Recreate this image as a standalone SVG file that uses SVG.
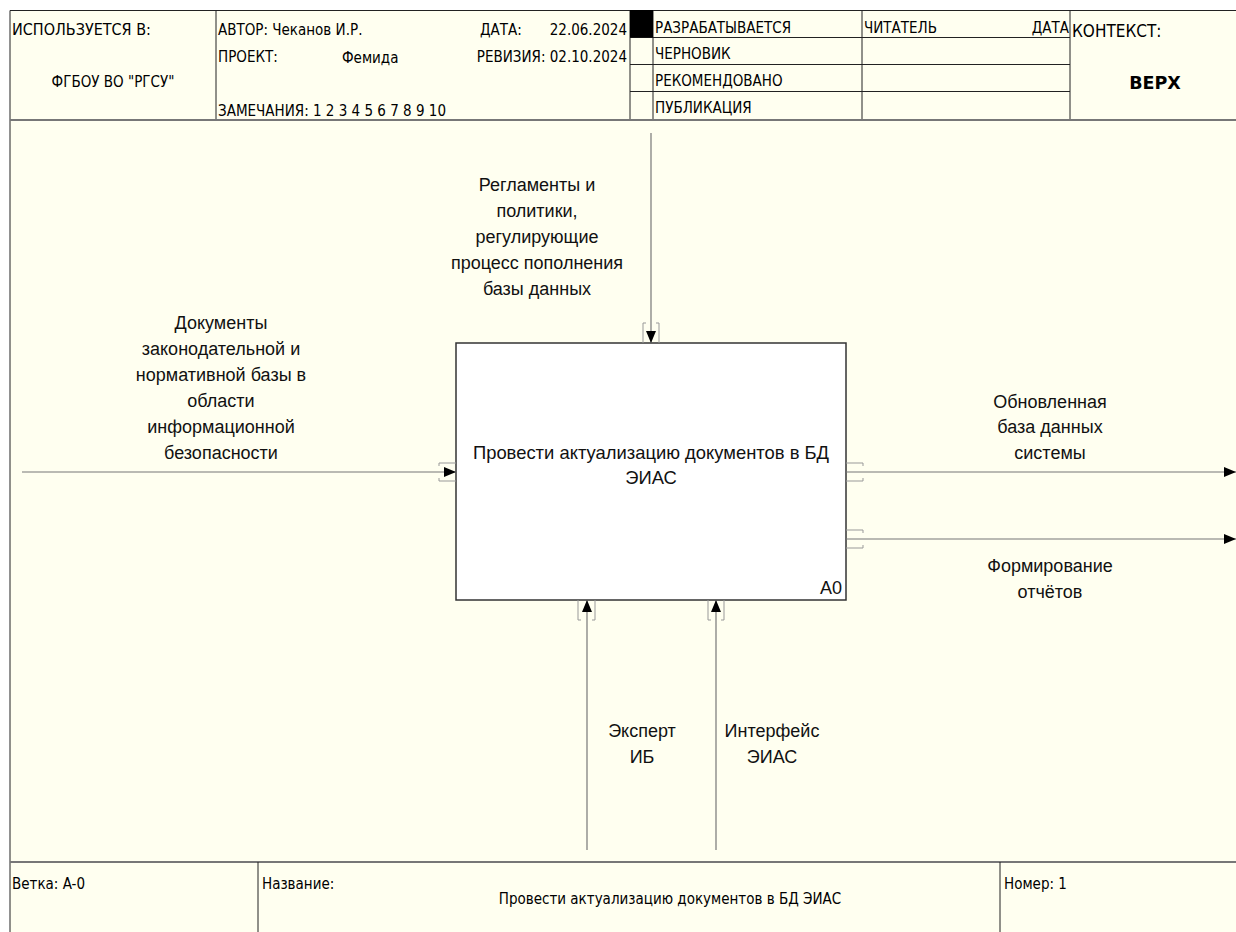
<svg xmlns="http://www.w3.org/2000/svg" width="1236" height="932" viewBox="0 0 1236 932">
<style>
.bg{fill:#fffff0}
.fr{stroke:#222;stroke-width:1;fill:none}
.sep{stroke:#777;stroke-width:2;fill:none}
.ht{font-family:"DejaVu Sans Condensed","DejaVu Sans",sans-serif;font-size:15px;fill:#000}
.hb{font-family:"DejaVu Sans",sans-serif;font-size:17.5px;font-weight:bold;fill:#000}
.lb{font-family:"Liberation Sans",Arial,sans-serif;font-size:18px;fill:#111;text-anchor:middle}
.box{fill:#fff;stroke:#333;stroke-width:1.5}
.cn{stroke:#777;stroke-width:1.2;fill:none;marker-end:url(#ah)}
.tun{stroke:#999;stroke-width:1;fill:none}
</style>
<defs>
<marker id="ah" markerUnits="userSpaceOnUse" markerWidth="13" markerHeight="11" refX="12" refY="5" orient="auto">
<path d="M0,0 L12,5 L0,10 z" fill="#000"/>
</marker>
</defs>
<rect x="0" y="0" width="1236" height="932" fill="#fff"/>
<rect class="bg" x="10" y="10" width="1226" height="922"/>
<g id="frame">
<path class="fr" d="M10,932 V10.5 H1236"/>
<path class="fr" d="M216,10 V120 M630,10 V120 M653,10 V120 M862,10 V120 M1070,10 V120"/>
<path class="fr" d="M630,37.5 H1070 M630,64.5 H1070 M630,91.5 H1070"/>
<rect x="630" y="10" width="23" height="27.5" fill="#000"/>
<path class="sep" d="M10,120 H1236"/>
<path class="sep" d="M10,862 H1236"/>
<path class="fr" d="M258,862 V932 M1000,862 V932"/>
<text class="ht" x="12" y="35" style="font-size:16px">ИСПОЛЬЗУЕТСЯ В:</text>
<text class="ht" x="113" y="87" text-anchor="middle">ФГБОУ ВО "РГСУ"</text>
<text class="ht" x="218" y="35">АВТОР: Чеканов И.Р.</text>
<text class="ht" x="218" y="62">ПРОЕКТ:</text>
<text class="ht" x="342" y="63">Фемида</text>
<text class="ht" x="218" y="116">ЗАМЕЧАНИЯ: 1 2 3 4 5 6 7 8 9 10</text>
<text class="ht" x="480" y="35">ДАТА:</text>
<text class="ht" x="627" y="35" text-anchor="end">22.06.2024</text>
<text class="ht" x="627" y="62" text-anchor="end">РЕВИЗИЯ: 02.10.2024</text>
<text class="ht" x="655" y="33">РАЗРАБАТЫВАЕТСЯ</text>
<text class="ht" x="655" y="59">ЧЕРНОВИК</text>
<text class="ht" x="655" y="86">РЕКОМЕНДОВАНО</text>
<text class="ht" x="655" y="113">ПУБЛИКАЦИЯ</text>
<text class="ht" x="864" y="33">ЧИТАТЕЛЬ</text>
<text class="ht" x="1069" y="33" text-anchor="end">ДАТА</text>
<text class="ht" x="1072" y="37" style="font-size:17px">КОНТЕКСТ:</text>
<text class="hb" x="1155" y="89" text-anchor="middle">ВЕРХ</text>
<text class="ht" x="12" y="889">Ветка: A-0</text>
<text class="ht" x="262" y="889">Название:</text>
<text class="ht" x="670" y="904" text-anchor="middle">Провести актуализацию документов в БД ЭИАС</text>
<text class="ht" x="1004" y="889">Номер: 1</text>
</g>
<g id="A0">
<rect class="box" x="456" y="343" width="390" height="257"/>
<text class="lb" x="651" y="459" style="font-size:18.4px">Провести актуализацию документов в БД</text>
<text class="lb" x="651" y="484" style="font-size:18.4px">ЭИАС</text>
<text class="lb" x="842" y="594" style="text-anchor:end">A0</text>
</g>
<g id="connectors">
<path class="cn" d="M22,472 H456"/>
<path class="cn" d="M651,133 V343"/>
<path class="cn" d="M587,850 V600"/>
<path class="cn" d="M716,850 V600"/>
<path class="cn" d="M846,472 H1236"/>
<path class="cn" d="M846,539 H1236"/>
<path class="tun" d="M456,463 H439 V466 M456,481 H439 V478"/>
<path class="tun" d="M643,343 V323 H646 M659,343 V323 H656"/>
<path class="tun" d="M578,600 V620 H581 M595,600 V620 H592"/>
<path class="tun" d="M708,600 V620 H711 M724,600 V620 H721"/>
<path class="tun" d="M846,463 H863 V466 M846,481 H863 V478"/>
<path class="tun" d="M846,530 H863 V533 M846,548 H863 V545"/>
</g>
<g id="labels">
<text class="lb" x="221" y="329">Документы</text>
<text class="lb" x="221" y="355">законодательной и</text>
<text class="lb" x="221" y="381">нормативной базы в</text>
<text class="lb" x="221" y="407">области</text>
<text class="lb" x="221" y="433">информационной</text>
<text class="lb" x="221" y="459">безопасности</text>
<text class="lb" x="537" y="191">Регламенты и</text>
<text class="lb" x="537" y="217">политики,</text>
<text class="lb" x="537" y="243">регулирующие</text>
<text class="lb" x="537" y="269">процесс пополнения</text>
<text class="lb" x="537" y="295">базы данных</text>
<text class="lb" x="1050" y="408">Обновленная</text>
<text class="lb" x="1050" y="433">база данных</text>
<text class="lb" x="1050" y="459">системы</text>
<text class="lb" x="1050" y="572">Формирование</text>
<text class="lb" x="1050" y="598">отчётов</text>
<text class="lb" x="642" y="737">Эксперт</text>
<text class="lb" x="642" y="763">ИБ</text>
<text class="lb" x="772" y="737">Интерфейс</text>
<text class="lb" x="772" y="763">ЭИАС</text>
</g>
</svg>
